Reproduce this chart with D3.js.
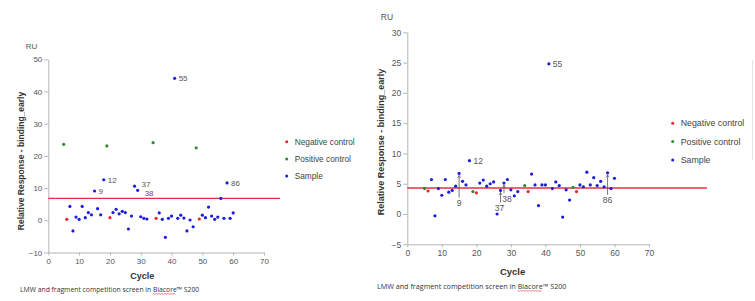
<!DOCTYPE html>
<html>
<head>
<meta charset="utf-8">
<script src="https://cdnjs.cloudflare.com/ajax/libs/d3/7.8.5/d3.min.js"></script>
<style>
  body { margin: 0; background: #fff; }
  svg { display: block; font-family: "Liberation Sans", Arial, sans-serif; }
</style>
</head>
<body>
<svg id="chart" width="755" height="301"></svg>
<script>
// ---- data: [cycle, RU] ----
var leftSample = [[7,4.3],[8,-3.3],[9,1.0],[10,0.3],[11,4.3],[12,0.8],[13,2.4],[14,1.7],[15,9.1],
  [16,3.6],[17,1.7],[18,12.6],[21,2.4],[22,3.4],[23,2.0],[24,2.8],[25,2.4],[26,-2.7],[27,1.3],
  [28,10.6],[29,9.3],[30,1.1],[31,0.6],[32,0.4],[36,2.3],[37,0.3],[38,-5.3],[39,0.6],[40,1.3],
  [41,44.1],[42,0.6],[43,1.6],[44,0.7],[45,-3.3],[46,0.1],[47,-2.0],[50,1.6],[51,0.8],[52,4.1],
  [53,1.3],[54,0.3],[55,1.0],[56,6.8],[57,0.6],[58,11.6],[59,0.6],[60,2.3]];
var leftNegative = [[6,0.3],[20,0.8],[35,0.6],[49,0.4]];
var leftPositive = [[5,23.6],[19,23.1],[34,24.1],[48,22.5]];
var leftLabels = [[15,"9"],[18,"12"],[28,"37"],[29,"38"],[41,"55"],[58,"86"]];
var leftCutoff = 6.8;
var leftTicksY = [-10, 0, 10, 20, 30, 40, 50];

var rightSample = [[7,5.7],[8,-0.3],[9,4.2],[10,3.1],[11,5.7],[12,3.6],[13,3.9],[14,4.6],[15,6.7],
  [16,5.4],[17,4.8],[18,8.8],[21,5.1],[22,5.6],[23,4.6],[24,5.0],[25,5.3],[26,0.0],[27,3.9],
  [28,5.1],[29,5.7],[30,4.0],[31,3.0],[32,3.7],[36,6.6],[37,4.8],[38,1.4],[39,4.8],[40,4.8],
  [41,24.8],[42,4.2],[43,5.3],[44,4.7],[45,-0.5],[46,4.0],[47,2.3],[50,4.8],[51,4.5],[52,6.9],
  [53,4.8],[54,6.0],[55,4.7],[56,5.4],[57,4.5],[58,6.8],[59,4.2],[60,5.9]];
var rightNegative = [[6,3.8],[20,3.5],[35,3.7],[49,3.7]];
var rightPositive = [[5,4.2],[19,3.7],[34,4.7],[48,4.4]];
var rightLabels = [[15,"9"],[18,"12"],[27,"37"],[28,"38"],[41,"55"],[58,"86"]];
var rightCutoff = 4.3;
var rightTicksY = [-5, 0, 5, 10, 15, 20, 25, 30];

var xTicks = [0, 10, 20, 30, 40, 50, 60, 70];
var legendNames = ["Negative control", "Positive control", "Sample"];
var caption = ["LMW and fragment competition screen in ", "Biacore", "\u2122 S200"];

var colors = { neg: "#e8252b", pos: "#2e8b2e", sample: "#1c1ce0", line: "#e23040" };

var svg = d3.select("#chart");

// draws one panel; cfg holds geometry, data passed separately
function panel(cfg, sample, neg, pos, labels, cutoff, yTicks) {
  var x = d3.scaleLinear().domain([0, 70]).range(cfg.xr);
  var y = d3.scaleLinear().domain(cfg.yd).range(cfg.yr);
  var g = svg.append("g");

  var xa = g.append("g").attr("transform", "translate(0," + cfg.yr[0] + ")")
    .call(d3.axisBottom(x).tickValues(xTicks).tickSize(3).tickPadding(3).tickSizeOuter(0));
  var ya = g.append("g").attr("transform", "translate(" + cfg.xr[0] + ",0)")
    .call(d3.axisLeft(y).tickValues(yTicks).tickSize(4).tickPadding(2).tickSizeOuter(0));
  [xa, ya].forEach(function(a) {
    a.select(".domain").attr("stroke", "#b5b5b5");
    a.selectAll(".tick line").attr("stroke", "#b5b5b5");
    a.selectAll(".tick text").attr("fill", "#555").style("font-size", cfg.tick + "px");
  });

  g.append("line")
    .attr("x1", cfg.xr[0]).attr("x2", cfg.lineEnd)
    .attr("y1", y(cutoff)).attr("y2", y(cutoff))
    .attr("stroke", colors.line).attr("stroke-width", cfg.lineW);

  // callouts: either hanging below the point on a stem, or beside it
  var sampleMap = new Map(sample);
  labels.forEach(function(l) {
    var px = x(l[0]), py = y(sampleMap.get(l[0]));
    var drop = cfg.drops[l[1]];
    if (drop) {
      g.append("line").attr("x1", px).attr("x2", px).attr("y1", py + 2).attr("y2", py + drop[0])
        .attr("stroke", "#555").attr("stroke-width", 0.8);
      g.append("path").attr("d", "M" + (px - 1.5) + "," + (py + 4.5) + "L" + px + "," + (py + 2) + "L" + (px + 1.5) + "," + (py + 4.5))
        .attr("fill", "none").attr("stroke", "#555").attr("stroke-width", 0.7);
      g.append("text").attr("x", px + drop[1]).attr("y", py + drop[0] + cfg.label).attr("text-anchor", "middle")
        .attr("fill", "#555").style("font-size", cfg.label + "px").text(l[1]);
    } else {
      var off = cfg.shift[l[1]] || [0, 0];
      g.append("text").attr("x", px + 4 + off[0]).attr("y", py + off[1]).attr("dy", "0.35em")
        .attr("fill", "#555").style("font-size", cfg.label + "px").text(l[1]);
    }
  });

  [[neg, colors.neg], [pos, colors.pos], [sample, colors.sample]].forEach(function(s) {
    g.selectAll(null).data(s[0]).enter().append("circle")
      .attr("cx", function(d) { return x(d[0]); })
      .attr("cy", function(d) { return y(d[1]); })
      .attr("r", 1.6).attr("fill", s[1]);
  });

  g.append("text").attr("x", cfg.ru[0]).attr("y", cfg.ru[1]).attr("text-anchor", "middle")
    .attr("fill", "#555").style("font-size", cfg.tick + "px").text("RU");
  g.append("text").attr("x", x(30.5)).attr("y", cfg.cycleY).attr("text-anchor", "middle")
    .attr("fill", "#333").style("font-size", cfg.title + "px").style("font-weight", "bold").text("Cycle");
  g.append("text")
    .attr("transform", "translate(" + cfg.yTitle[0] + "," + cfg.yTitle[1] + ") rotate(-90)")
    .attr("text-anchor", "middle").attr("fill", "#333")
    .style("font-size", cfg.title - 0.5 + "px").style("font-weight", "bold")
    .text("Relative Response - binding_early");

  var lg = g.append("g");
  legendNames.forEach(function(n, i) {
    var ly = cfg.legend[1] + i * cfg.legendGap;
    lg.append("circle").attr("cx", cfg.legend[0]).attr("cy", ly).attr("r", 1.5)
      .attr("fill", [colors.neg, colors.pos, colors.sample][i]);
    lg.append("text").attr("x", cfg.legend[0] + 8).attr("y", ly).attr("dy", "0.35em")
      .attr("fill", "#444").style("font-size", cfg.legendFont + "px").text(n);
  });

  var cap = g.append("text").attr("x", cfg.caption[0]).attr("y", cfg.caption[1])
    .attr("fill", "#333").style("font-family", "'Open Sans', sans-serif").style("font-size", cfg.capFont + "px");
  cap.selectAll("tspan").data(caption).enter().append("tspan").text(function(d) { return d; });
  var node = cap.node();
  var start = caption[0].length;
  var x0 = node.getStartPositionOfChar(start).x;
  var x1 = node.getEndPositionOfChar(start + caption[1].length - 1).x;
  var wy = cfg.caption[1] + 2;
  var pts = [];
  for (var wx = x0; wx <= x1; wx += 1.5) pts.push([wx, wy + ((pts.length % 2) ? 0.8 : 0)]);
  g.append("path").attr("d", d3.line()(pts)).attr("fill", "none").attr("stroke", "#e03030").attr("stroke-width", 0.6);
}

panel({
  xr: [48.3, 264], yd: [-10, 50], yr: [252.5, 59.3], lineEnd: 280, lineW: 1.2,
  tick: 8, label: 8, title: 9, legendFont: 8.3, capFont: 6.8,
  drops: {}, shift: { "37": [3, -2], "38": [3, 2.5] },
  ru: [31.5, 49], cycleY: 279, yTitle: [24, 161], legend: [286.7, 141.7], legendGap: 17.2,
  caption: [20, 291.5]
}, leftSample, leftNegative, leftPositive, leftLabels, leftCutoff, leftTicksY);

panel({
  xr: [407.3, 649], yd: [-5, 30], yr: [244.3, 32.3], lineEnd: 707, lineW: 1.6,
  tick: 8.5, label: 8.5, title: 9.5, legendFont: 8.8, capFont: 7.2,
  drops: { "9": [24, 0], "37": [12, -1], "38": [10, 3], "86": [22, 0] }, shift: {},
  ru: [387, 20], cycleY: 275, yTitle: [384, 142], legend: [672.7, 123.3], legendGap: 18.3,
  caption: [377, 288.5]
}, rightSample, rightNegative, rightPositive, rightLabels, rightCutoff, rightTicksY);

// faint frame edge at far right of the second screen
svg.append("line").attr("x1", 752.5).attr("x2", 752.5).attr("y1", 60).attr("y2", 160)
  .attr("stroke", "#e4e4e4").attr("stroke-width", 1);
</script>
</body>
</html>
